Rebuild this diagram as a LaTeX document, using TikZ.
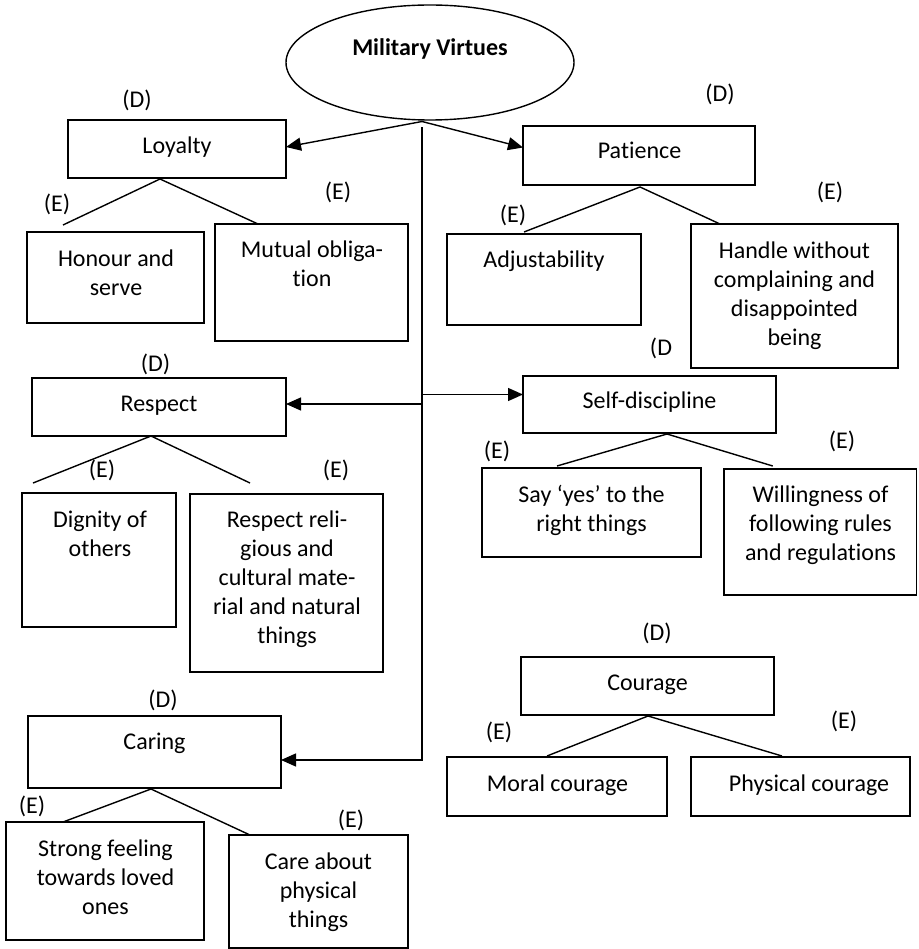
\documentclass[tikz,border=0pt]{standalone}
\usepackage{fontspec}
\setmainfont[Ligatures=NoCommon]{Carlito}
\usetikzlibrary{calc,arrows.meta,shapes.geometric}
\newcommand\mybox[5]{\node[box,minimum width={(#4-#2)*1pt},minimum height={(#5-#3)*1pt}] (#1) at ({(#2+#4)/2},{(#3+#5)/2}) {};}
\begin{document}
\begin{tikzpicture}[x=1pt,y=-1pt,
  box/.style={draw,line width=1.4pt,inner sep=0pt,outer sep=0pt},
  txt/.style={font=\fontsize{24}{29}\selectfont,inner sep=0pt,align=center,anchor=base},
  lbl/.style={font=\fontsize{24}{29}\selectfont,inner sep=0pt,anchor=base},
  link/.style={line width=1.4pt},
  arr/.style={line width=1.4pt,-{Triangle[length=15pt,width=13pt]}}]
\useasboundingbox (0,0) rectangle (918,949);

% root
\node[draw,ellipse,line width=1.4pt,minimum width=288pt,minimum height=115pt,inner sep=0pt,outer sep=0pt] (mv) at (430,62.5) {};
\node[txt,font={\fontsize{24}{29}\selectfont\bfseries}] (mvt) at (430,56) {Military Virtues};

% boxes
\mybox{loy}{68}{120}{286}{178}
\mybox{hon}{27}{232}{204}{323}
\mybox{mut}{215}{224}{408}{341}
\mybox{pat}{523}{126}{755}{185}
\mybox{adj}{447}{234}{641}{325}
\mybox{han}{691}{224}{898}{368}
\mybox{resp}{32}{378}{286}{436}
\mybox{dig}{22}{493}{176}{627}
\mybox{rrel}{190}{494}{383}{672}
\mybox{sd}{523}{376}{776}{433}
\mybox{say}{482}{468}{701}{557}
\mybox{wil}{724}{469}{916.5}{595}
\mybox{cou}{521}{657}{774}{715}
\mybox{mor}{447}{757}{667}{816}
\mybox{phy}{691}{757}{910}{816}
\mybox{car}{28}{716}{281}{788}
\mybox{str}{6}{822}{204}{940}
\mybox{cab}{229}{835}{408}{948}

% box texts (anchor = baseline of the last line)
\node[txt] (loy-t) at (177,154) {Loyalty};
\node[txt] (hon-t) at (116,295) {Honour and\\serve};
\node[txt] (mut-t) at (312,287) {Mutual obliga-\\tion};
\node[txt] (pat-t) at (639.5,159) {Patience};
\node[txt] (adj-t) at (544,268) {Adjustability};
\node[txt] (han-t) at (794.5,345) {Handle without\\complaining and\\disappointed\\being};
\node[txt] (resp-t) at (159,411) {Respect};
\node[txt] (dig-t) at (100,556) {Dignity of\\others};
\node[txt] (rrel-t) at (287,643) {Respect reli-\\gious and\\cultural mate-\\rial and natural\\things};
\node[txt] (sd-t) at (649.5,408) {Self-discipline};
\node[txt] (say-t) at (591.5,531) {Say ‘yes’ to the\\right things};
\node[txt] (wil-t) at (820.5,560) {Willingness of\\following rules\\and regulations};
\node[txt] (cou-t) at (647.5,690) {Courage};
\node[txt] (mor-t) at (557.5,791) {Moral courage};
\node[txt] (phy-t) at (809,791) {Physical courage};
\node[txt] (car-t) at (154.5,749) {Caring};
\node[txt] (str-t) at (105.5,914) {Strong feeling\\towards loved\\ones};
\node[txt] (cab-t) at (318.5,927) {Care about\\physical\\things};

% (D) / (E) labels
\node[lbl] (loy-d) at (137,108) {(D)};
\node[lbl] (hon-e) at (57,212) {(E)};
\node[lbl] (mut-e) at (338,200) {(E)};
\node[lbl] (pat-d) at (720,102) {(D)};
\node[lbl] (adj-e) at (513,223) {(E)};
\node[lbl] (han-e) at (830,200) {(E)};
\node[lbl] (resp-d) at (155.5,371) {(D)};
\node[lbl] (dig-e) at (102,477) {(E)};
\node[lbl] (rrel-e) at (336,477) {(E)};
\node[lbl] (sd-d) at (661,355) {(D};
\node[lbl] (say-e) at (497,458) {(E)};
\node[lbl] (wil-e) at (842,448) {(E)};
\node[lbl] (cou-d) at (657,640) {(D)};
\node[lbl] (mor-e) at (499,739) {(E)};
\node[lbl] (phy-e) at (844,728) {(E)};
\node[lbl] (car-d) at (163,707) {(D)};
\node[lbl] (str-e) at (32,813) {(E)};
\node[lbl] (cab-e) at (351,827) {(E)};

% arrows from root
\coordinate (hub) at ($(mv.south)+(-8,1.5)$);
\coordinate (vtop) at ($(hub)+(0,6)$);
\draw[arr] (hub) -- ($(loy.east)+(0,-2)$);
\draw[arr] (hub) -- ($(pat.west)+(0,-8)$);
\draw[arr] (vtop) |- ($(car.east)+(0,8)$);
\coordinate (ra) at ($(resp.east)+(0,-3)$);
\draw[arr] (vtop |- ra) -- (ra);
\coordinate (sa) at ($(sd.west)+(0,-10)$);
\draw[arr] (vtop |- sa) -- (sa);

% child links
\draw[link] ($(hon.north)+(-52.5,-7)$) -- ($(loy.south)+(-17,1)$) -- ($(mut.north)+(-53.5,0)$);
\draw[link] ($(adj.north)+(-20,-2)$) -- ($(pat.south)+(1,2)$) -- ($(han.north)+(-74.5,0)$);
\draw[link] ($(dig.north)+(-66,-10)$) -- ($(resp.south)+(-8,0)$) -- ($(rrel.north)+(-36.5,-11)$);
\draw[link] ($(say.north)+(-34.5,-2)$) -- ($(sd.south)+(17.5,1)$) -- ($(wil.north)+(-47.5,-3)$);
\draw[link] ($(mor.north)+(-10,-1)$) -- ($(cou.south)+(0.5,1)$) -- ($(phy.north)+(-18.5,-1)$);
\draw[link] ($(str.north)+(-42,0)$) -- ($(car.south)+(-3.5,1)$) -- ($(cab.north)+(-68.5,0)$);
\end{tikzpicture}
\end{document}
